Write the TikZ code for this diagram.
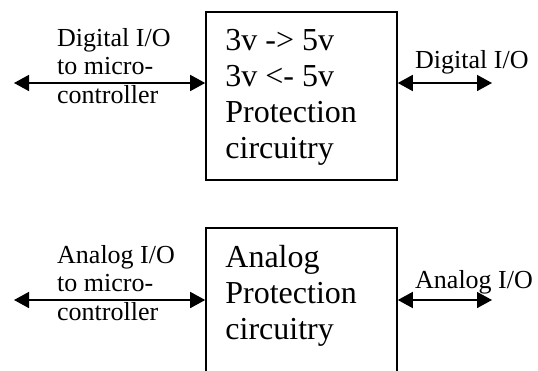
\documentclass[tikz,border=0pt]{standalone}
\usepackage{fontspec}
\setmainfont{Liberation Serif}
\usetikzlibrary{positioning,arrows.meta}

\begin{document}
\begin{tikzpicture}[x=1pt,y=1pt,
	block/.style={draw,line width=1.6pt,minimum width=191pt,minimum height=168pt,inner sep=0pt},
	blocktext/.style={align=left,inner sep=0pt,font=\fontsize{32}{36}\selectfont},
	iolabel/.style={align=left,inner sep=0pt,anchor=north west,font=\fontsize{26}{28.5}\selectfont},
	io/.style={arrows={Triangle[length=15pt,width=16pt]-Triangle[length=15pt,width=16pt]},line width=1.6pt}]
				\clip (0,0) rectangle (538,-370);
				\node[block] (dig) at (301.5,-96) {};
				\node[blocktext,below right=18pt and 20pt of dig.north west] (digtext) {3v -> 5v\\3v <- 5v\\Protection\\circuitry};
				\node[block] (ana) at (301.5,-312) {};
				\node[blocktext,below right=18pt and 20pt of ana.north west] (anatext) {Analog\\Protection\\circuitry};
				\coordinate (digmcu) at (14,-83);
				\coordinate (digout) at (492,-83);
				\coordinate (anamcu) at (14,-300);
				\coordinate (anaout) at (492,-300);
				\draw[io] (digmcu) -- (digmcu -| dig.west);
				\draw[io] (dig.east |- digout) -- (digout);
				\draw[io] (anamcu) -- (anamcu -| ana.west);
				\draw[io] (ana.east |- anaout) -- (anaout);
				\node[iolabel] (diglbl) at (57,-28) {Digital I/O\\to micro-\\controller};
				\node[iolabel] (digoutlbl) at (415,-50) {Digital I/O};
				\node[iolabel] (analbl) at (57,-245) {Analog I/O\\to micro-\\controller};
				\node[iolabel] (anaoutlbl) at (415,-270) {Analog I/O};
\end{tikzpicture}
\end{document}
